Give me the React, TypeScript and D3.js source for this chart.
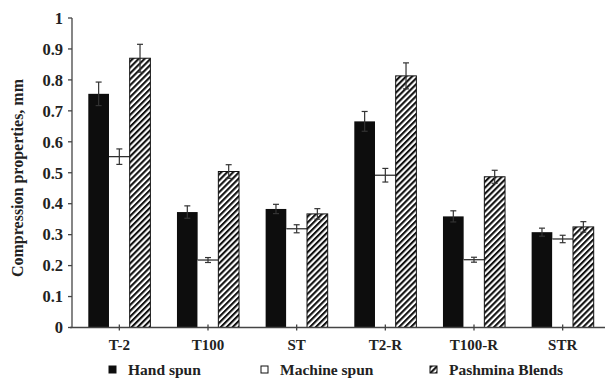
import React, { useEffect, useRef } from "react";
import * as d3 from "d3";

// categories and series
const categories = ["T-2", "T100", "ST", "T2-R", "T100-R", "STR"];
const seriesNames = ["Hand spun", "Machine spun", "Pashmina Blends"];

const handSpun = [0.755, 0.373, 0.383, 0.666, 0.359, 0.308];
const machineSpun = [0.552, 0.218, 0.319, 0.492, 0.219, 0.286];
const pashmina = [0.87, 0.504, 0.367, 0.813, 0.487, 0.325];

// error (half-width) values
const handErr = [0.038, 0.02, 0.015, 0.032, 0.018, 0.013];
const machineErr = [0.025, 0.008, 0.013, 0.022, 0.008, 0.012];
const pashminaErr = [0.045, 0.022, 0.017, 0.042, 0.021, 0.017];

const yTicks = [0, 0.1, 0.2, 0.3, 0.4, 0.5, 0.6, 0.7, 0.8, 0.9, 1];

const W = 605, H = 382;
const FONT = "'Liberation Serif', 'Times New Roman', serif";

export default function App() {
  const ref = useRef<SVGSVGElement>(null);

  useEffect(() => {
    const svg = d3.select(ref.current);
    svg.selectAll("*").remove();

    // hatch pattern
    const defs = svg.append("defs");
    defs.append("pattern")
      .attr("id", "hatch")
      .attr("patternUnits", "userSpaceOnUse")
      .attr("width", 4.2)
      .attr("height", 4.2)
      .attr("patternTransform", "rotate(45)")
      .call(p => {
        p.append("rect").attr("width", 4.2).attr("height", 4.2).attr("fill", "#fff");
        p.append("rect").attr("width", 2.1).attr("height", 4.2).attr("fill", "#111");
      });

    const y = d3.scaleLinear().domain([0, 1]).range([327.5, 18]);
    const x0 = d3.scaleBand().domain(categories).range([75, 607]).paddingInner(0.3).paddingOuter(0.15);
    const x1 = d3.scaleBand().domain(seriesNames).range([0, x0.bandwidth()]);

    const values = [handSpun, machineSpun, pashmina];
    const errs = [handErr, machineErr, pashminaErr];
    const fills = ["#0d0d0d", "#fff", "url(#hatch)"];

    const g = svg.append("g");

    // bars
    seriesNames.forEach((s, si) => {
      const rows = categories.map((c, i) => ({ c, v: values[si][i], e: errs[si][i] }));
      const bars = g.selectAll(".bar" + si)
        .data(rows)
        .join("rect")
        .attr("class", "bar" + si)
        .attr("x", d => x0(d.c)! + x1(s)!)
        .attr("y", d => y(d.v))
        .attr("width", x1.bandwidth())
        .attr("height", d => y(0) - y(d.v))
        .attr("fill", fills[si]);
      if (si === 2) bars.attr("stroke", "#111").attr("stroke-width", 1);
      if (si === 1) {
        // white bars only show their top edge
        g.selectAll(".top" + si)
          .data(rows)
          .join("line")
          .attr("class", "top" + si)
          .attr("x1", d => x0(d.c)! + x1(s)!)
          .attr("x2", d => x0(d.c)! + x1(s)! + x1.bandwidth())
          .attr("y1", d => y(d.v))
          .attr("y2", d => y(d.v))
          .attr("stroke", "#222")
          .attr("stroke-width", 1.2);
      }
    });

    // error bars
    seriesNames.forEach((s, si) => {
      const rows = categories.map((c, i) => ({ c, v: values[si][i], e: errs[si][i] }));
      const cx = (d: any) => x0(d.c)! + x1(s)! + x1.bandwidth() / 2;
      const eb = g.selectAll(".err" + si).data(rows).join("g").attr("class", "err" + si)
        .attr("stroke", "#333").attr("stroke-width", 1.2);
      eb.append("line").attr("x1", cx).attr("x2", cx)
        .attr("y1", d => y(d.v - d.e)).attr("y2", d => y(d.v + d.e));
      eb.append("line").attr("x1", d => cx(d) - 3).attr("x2", d => cx(d) + 3)
        .attr("y1", d => y(d.v + d.e)).attr("y2", d => y(d.v + d.e));
      eb.append("line").attr("x1", d => cx(d) - 3).attr("x2", d => cx(d) + 3)
        .attr("y1", d => y(d.v - d.e)).attr("y2", d => y(d.v - d.e));
    });

    // y axis
    g.append("line").attr("x1", 72).attr("x2", 72).attr("y1", y(1)).attr("y2", y(0))
      .attr("stroke", "#444").attr("stroke-width", 1.3);
    g.selectAll(".ytick").data(yTicks).join("line").attr("class", "ytick")
      .attr("x1", 68).attr("x2", 72).attr("y1", d => y(d)).attr("y2", d => y(d))
      .attr("stroke", "#444").attr("stroke-width", 1.3);
    g.selectAll(".ylab").data(yTicks).join("text").attr("class", "ylab")
      .attr("x", 63).attr("y", d => y(d)).attr("dy", "0.35em")
      .attr("text-anchor", "end")
      .style("font-family", FONT).style("font-weight", "bold").style("font-size", "16.5px")
      .attr("fill", "#222")
      .text(d => d3.format("~g")(d));

    // x axis
    g.append("line").attr("x1", 70).attr("x2", 605).attr("y1", y(0)).attr("y2", y(0))
      .attr("stroke", "#444").attr("stroke-width", 1.3);
    g.selectAll(".xtick").data(categories).join("line").attr("class", "xtick")
      .attr("x1", d => x0(d)! + x0.bandwidth() / 2).attr("x2", d => x0(d)! + x0.bandwidth() / 2)
      .attr("y1", y(0) - 3).attr("y2", y(0) + 3)
      .attr("stroke", "#444").attr("stroke-width", 1.3);
    g.selectAll(".xlab").data(categories).join("text").attr("class", "xlab")
      .attr("x", d => x0(d)! + x0.bandwidth() / 2).attr("y", 350)
      .attr("text-anchor", "middle")
      .style("font-family", FONT).style("font-weight", "bold").style("font-size", "15px")
      .attr("fill", "#222")
      .text(d => d);

    // y axis title
    g.append("text")
      .attr("transform", "translate(23,178) rotate(-90)")
      .attr("text-anchor", "middle")
      .style("font-family", FONT).style("font-weight", "bold").style("font-size", "16px")
      .attr("fill", "#222")
      .text("Compression properties, mm");

    // legend
    const legX = [109, 261, 430];
    const leg = g.selectAll(".leg").data(seriesNames).join("g").attr("class", "leg")
      .attr("transform", (d, i) => `translate(${legX[i]},366)`);
    leg.append("rect").attr("width", 7).attr("height", 7)
      .attr("fill", (d, i) => fills[i])
      .attr("stroke", "#111").attr("stroke-width", 1);
    leg.append("text").attr("x", 19).attr("y", 9)
      .style("font-family", FONT).style("font-weight", "bold").style("font-size", "15.5px")
      .attr("fill", "#222")
      .text(d => d);
  }, []);

  return (
    <svg ref={ref} width={W} height={H}
      style={{ position: "absolute", left: 0, top: 0, background: "#fff" }} />
  );
}
